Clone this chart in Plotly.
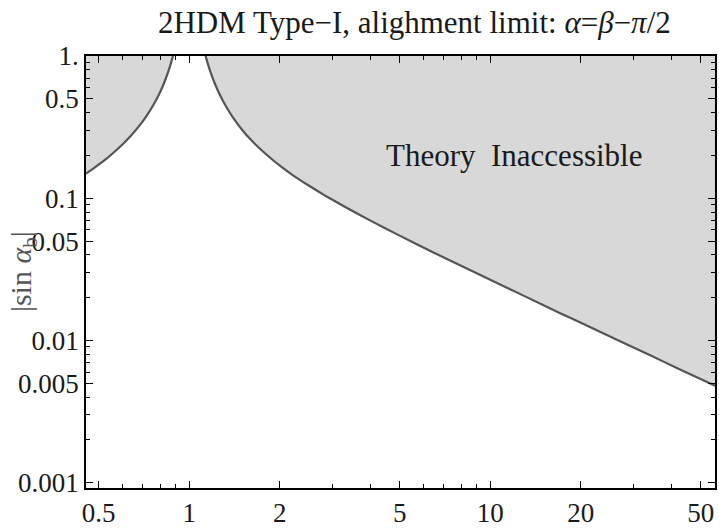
import numpy as np
import plotly.graph_objects as go

# Boundary of the theoretically inaccessible region (tan beta, |sin alpha_b|)
tanb_low = [0.454, 0.48, 0.50, 0.53, 0.56, 0.60, 0.64, 0.68, 0.72, 0.76, 0.80, 0.83, 0.85,
            0.86, 0.87, 0.877, 0.884]
sinab_low = [0.149, 0.1615, 0.172, 0.189, 0.209, 0.239, 0.275, 0.320, 0.377, 0.452, 0.556,
             0.667, 0.766, 0.826, 0.895, 0.95, 1.0]

tanb_high = [1.133, 1.14, 1.15, 1.165, 1.18, 1.20, 1.22, 1.26, 1.30, 1.35, 1.40, 1.50, 1.60,
             1.70, 1.90, 2.0, 2.2, 2.5, 2.8, 3.0, 3.5, 4.0, 5.0, 6.5, 8.0, 10, 13, 17, 21, 27,
             34, 42, 50, 55.8]
sinab_high = [1.0, 0.959, 0.899, 0.822, 0.758, 0.687, 0.630, 0.540, 0.475, 0.414, 0.3675,
              0.302, 0.2585, 0.2276, 0.1849, 0.1695, 0.1461, 0.1224, 0.1056, 0.0971, 0.0809,
              0.0696, 0.0546, 0.0414, 0.0335, 0.0267, 0.0205, 0.0156, 0.0127, 0.00987,
              0.00786, 0.00636, 0.00536, 0.0048]

# Axis limits
X_MIN, X_MAX = 0.454, 55.8
Y_MIN, Y_MAX = 0.000918, 1.0

x_tickvals = [0.5, 1, 2, 5, 10, 20, 50]
x_ticktext = ["0.5", "1", "2", "5", "10", "20", "50"]
x_minor = [0.6, 0.7, 0.8, 0.9, 3, 4, 6, 7, 8, 9, 30, 40]

y_tickvals = [0.001, 0.005, 0.01, 0.05, 0.1, 0.5, 1]
y_ticktext = ["0.001", "0.005", "0.01", "0.05", "0.1", "0.5", "1."]
y_minor = [m * d for d in (0.001, 0.01, 0.1) for m in (2, 3, 4, 6, 7, 8, 9)]

FILL = "#d8d8d8"
EDGE = "#555555"
SERIF = "Liberation Serif, Times New Roman, serif"
INK = "#1a1a1a"

fig = go.Figure()

# Shaded regions, closed along the frame
fig.add_trace(go.Scatter(
    x=tanb_low + [X_MIN], y=sinab_low + [Y_MAX],
    fill="toself", fillcolor=FILL, mode="lines", line=dict(width=0),
    hoverinfo="skip", showlegend=False))
fig.add_trace(go.Scatter(
    x=tanb_high + [X_MAX], y=sinab_high + [Y_MAX],
    fill="toself", fillcolor=FILL, mode="lines", line=dict(width=0),
    hoverinfo="skip", showlegend=False))

# Boundary curves
for xs, ys in ((tanb_low, sinab_low), (tanb_high, sinab_high)):
    fig.add_trace(go.Scatter(
        x=xs, y=ys, mode="lines",
        line=dict(color=EDGE, width=2.2, shape="spline", smoothing=0.4),
        showlegend=False))

axis_common = dict(
    type="log", showgrid=False, zeroline=False,
    showline=True, linecolor="black", linewidth=1.5, mirror="ticks",
    ticks="inside", ticklen=7, tickwidth=1, tickcolor="black",
    tickfont=dict(family=SERIF, size=27, color=INK),
)

fig.update_xaxes(
    range=[np.log10(X_MIN), np.log10(X_MAX)],
    tickmode="array", tickvals=x_tickvals, ticktext=x_ticktext,
    minor=dict(tickvals=x_minor, ticks="inside", ticklen=4, tickcolor="black", tickwidth=1),
    **axis_common)
fig.update_yaxes(
    range=[np.log10(Y_MIN), np.log10(Y_MAX)],
    tickmode="array", tickvals=y_tickvals, ticktext=y_ticktext,
    minor=dict(tickvals=y_minor, ticks="inside", ticklen=4, tickcolor="black", tickwidth=1),
    **axis_common)

fig.add_annotation(
    x=np.log10(12), y=np.log10(0.2), xref="x", yref="y",
    text="Theory  Inaccessible", showarrow=False,
    font=dict(family=SERIF, size=31, color=INK))

fig.add_annotation(
    x=-0.1, y=0.5, xref="paper", yref="paper", xanchor="center", yanchor="middle",
    text="|sin <i>α</i><sub>b</sub>|", textangle=-90, showarrow=False,
    font=dict(family=SERIF, size=30, color="#555555"))

fig.update_layout(
    width=719, height=530,
    margin=dict(l=86, r=2, t=56, b=34),
    paper_bgcolor="white", plot_bgcolor="white",
    title=dict(
        text="2HDM Type\u2212I, alighment limit: <i>α</i>=<i>β</i>\u2212<i>π</i>/2",
        x=0.522, xref="paper", xanchor="center",
        y=1 - 22 / 530, yref="container", yanchor="middle",
        font=dict(family=SERIF, size=31, color=INK)),
)

fig.write_html("out.html")
